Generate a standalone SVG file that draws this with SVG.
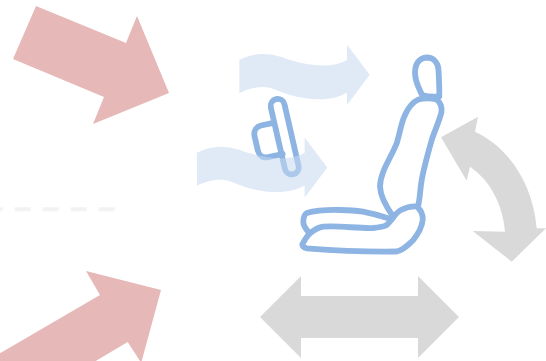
<svg xmlns="http://www.w3.org/2000/svg" width="546" height="361" viewBox="0 0 546 361">
<style>
.red{fill:#e6b8b7}
.grey{fill:#d9d9d9}
.wind{fill:#c6d9f1;fill-opacity:.55}
.seat{fill:none;stroke:#8db4e2;stroke-width:5.800;stroke-linejoin:round;stroke-linecap:round}
.dash{stroke:#f2f2f2;stroke-width:4;fill:none;stroke-dasharray:16 12}
</style>
<defs>
<path id="windShape" d="M239.300 60C247 56 255 54 263 54C273 54 282 57 290 60C301 63 312 65.500 323 65.500C333 65.500 341 63.500 347 60V44.700L369.700 74.700L347 105V92.700C340 96.500 331 99.300 320 99.300C309 99.300 299 97.500 290 95C280 92 272 87 263 87C254 87 247 89.500 239.300 93Z"/>
</defs>
<rect width="546" height="361" fill="#ffffff"/>
<g id="connectors">
<path class="dash" d="M-13.300 209.300H114.700"/>
</g>
<g id="force-top"><path class="red" d="M36 6L126 43L137 16L169 93L93 124L104 97L13 59Z"/></g>
<g id="force-bottom"><path class="red" d="M86 271L161 290L141.700 361H140L127.700 342L95.700 361H0V353.300L100 295Z"/></g>
<g id="seat">
<path class="seat" d="M426.700 57.500C433 57.500 438 62 438.500 70C439 80 439.500 88 439.300 96.500C433 97 427 96.500 422 95C419 88 415 82 415 73C415 64 419 58 426.700 57.500Z"/>
<path class="seat" d="M393.300 216.700C387 208 380.500 198 380 186.700C380 172 391 158 396.700 143.300C400 133 401 123 405 115C408 108 413 102 418.300 99.500C424 98 431 98 436.700 99.500C441 103 442 107 441.500 112C439 122 435 130 431.700 140C428 153 424 167 421.700 180C420 190 420 198 418.300 205"/>
<path class="seat" d="M393 218C395 215 398 211.500 401 210C406 207.500 411 206 416.700 206.500C421 210 423 215 422.700 220C422 227 418 234 413.300 240C408 245 404 250 396.700 251.500C370 252 335 250.500 306.700 248.300C304 247.500 302.500 246 302.300 244.500C304 241 307 236 310 233.300C314 230 318 227.500 323.300 226.700C340 225.500 357 228.500 373 228C379 227.500 383 227 386.700 225C389 223 391 220.500 393 218Z"/>
<path class="seat" d="M308.300 231.700C305 228 303.300 225 303.300 221.700C303.300 218 304 215 306.700 213C317 210 329 209.800 340 210C348 210 356 210.500 363 211.700C372 213.500 381 216 388.300 218.300"/>
</g>
<g id="belt">
<rect class="seat" x="-7" y="-38.500" width="14" height="77" rx="7" transform="translate(284.700 136.700) rotate(-12.900)"/>
<path class="seat" d="M271 123.300L261 125.500C256 127 253.500 131 254.500 136L258 151C259.500 156 263 158 267 157.300L282.700 154"/>
</g>
<g id="wind-upper"><use href="#windShape" class="wind"/></g>
<g id="wind-lower"><use href="#windShape" class="wind" transform="translate(-42.400 92.800)"/></g>
<g id="recline"><path class="grey" d="M441 137.300L478 116.700L475 131.700C510 148 533 185 536.700 228.300H546L511.700 261.700L472.700 231L505 231.700C503 205 490 180 470 166.700L466.700 180.700Z"/></g>
<g id="slide"><path class="grey" d="M260 317L301 276V296H418V276L459 317L418 358V338H301V358Z"/></g>
</svg>
